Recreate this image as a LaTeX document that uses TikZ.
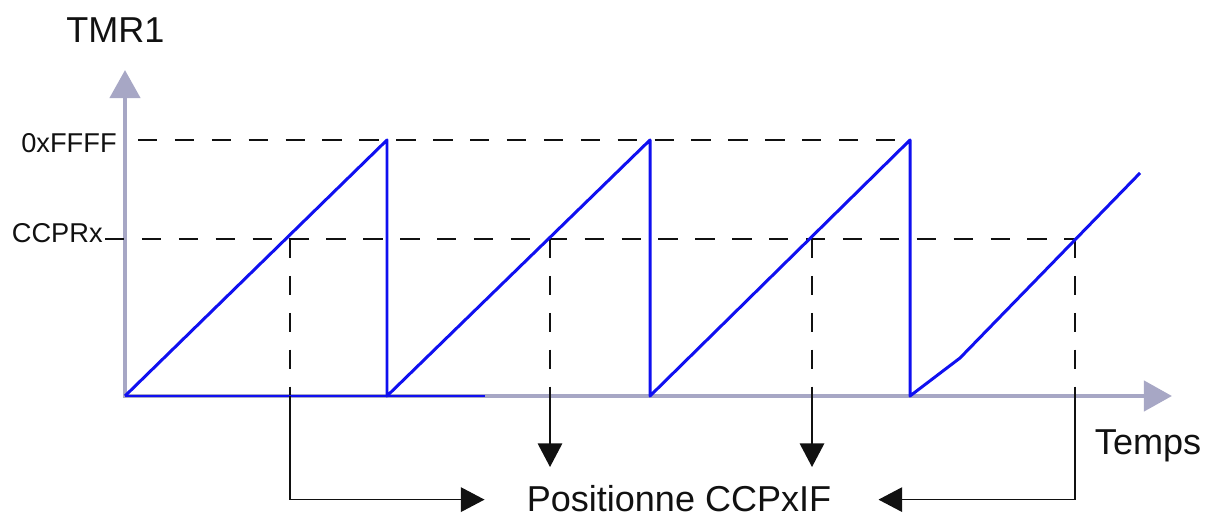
\documentclass[tikz,border=0pt]{standalone}
\usepackage{fontspec}
\setmainfont{Liberation Sans}
\usepackage{tikz}
\usetikzlibrary{arrows.meta,calc}
\definecolor{axisGray}{HTML}{A7A7C5}
\definecolor{rampBlue}{HTML}{1010F0}
\definecolor{inkBlack}{HTML}{111111}

\tikzset{
    axis/.style={draw=axisGray, line width=2.8pt, -{Triangle[length=16pt,width=17pt]}},
    ramp/.style={draw=rampBlue, line width=1.7pt, line join=round},
    guide/.style={draw=inkBlack, line width=1.1pt, dash pattern=on 11pt off 10pt},
    flag/.style={draw=inkBlack, line width=0.85pt, -{Triangle[length=13.5pt,width=14pt]}},
    biglabel/.style={inner sep=0pt, text=inkBlack, font=\fontsize{20.5}{24}\selectfont},
    smalllabel/.style={inner sep=0pt, text=inkBlack, font=\fontsize{15.5}{18}\selectfont}
}

\begin{document}
\begin{tikzpicture}[x=0.02cm, y=-0.02cm]
    \useasboundingbox (0,0) rectangle (1213,516);

    % Labels
    \node[biglabel, anchor=base] (tmr) at (115.5,43) {TMR1};
    \node[biglabel, anchor=base] (temps) at (1148,455) {Temps};
    \node[smalllabel, anchor=base east] (ffff) at (117,153) {0xFFFF};
    \node[smalllabel, anchor=base east] (ccpr) at (103,243) {CCPRx};
    \node[biglabel, anchor=base] (pos) at (679,511.5) {Positionne CCPxIF};

    % Key points
    \coordinate (o) at (125,396);
    \coordinate (c1) at (290,239);
    \coordinate (c2) at (550,239);
    \coordinate (c3) at (812,239);
    \coordinate (c4) at (1075,239);

    % Axes
    \draw[axis] (125,398) -- (125,70);
    \draw[axis] (123,396) -- (1172,396);

    % Threshold lines
    \draw[guide] (138,140) -- (910,140);
    \draw[guide] (105,239) -- (c4);
    \foreach \c in {c1,c2,c3,c4}
        \draw[guide] (\c) -- (\c |- o);

    % Timer ramp
    \draw[ramp] (o) -- (387,140) -- (387,396) -- (650,140) -- (650,396)
        -- (910,140) -- (910,396) -- (960,358) -- (1140,173);
    \draw[ramp] (o) -- (485,396);

    % Interrupt flag arrows
    \draw[flag] (c1 |- o) |- ($(pos.west)+(-42,1)$);
    \draw[flag] (c2 |- o) -- (550,467);
    \draw[flag] (c3 |- o) -- (812,467);
    \draw[flag] (c4 |- o) |- ($(pos.east)+(47,1)$);
\end{tikzpicture}
\end{document}
